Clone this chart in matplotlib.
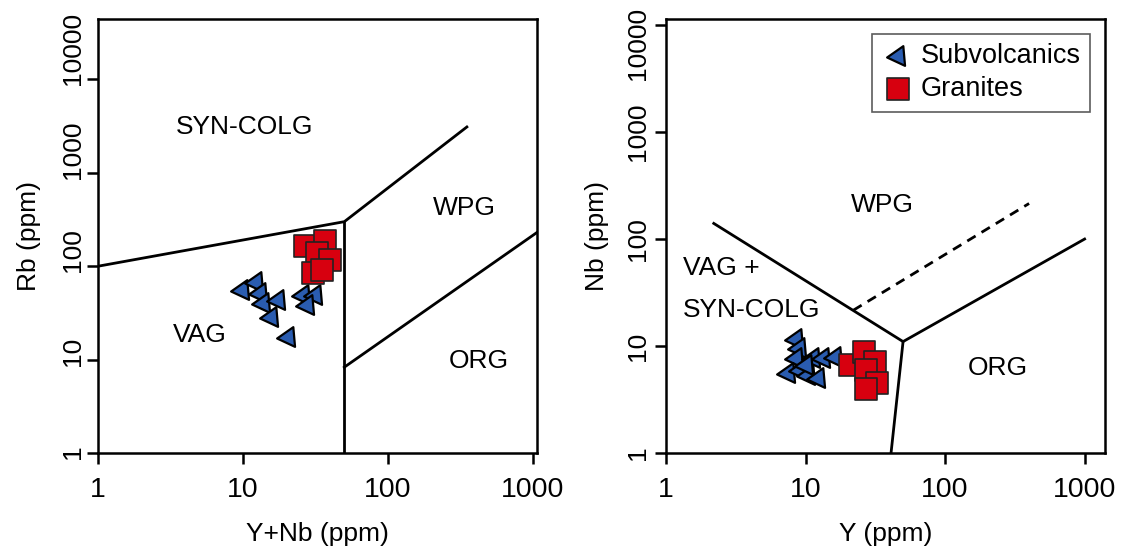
import matplotlib
matplotlib.use("Agg")
import matplotlib.pyplot as plt
from matplotlib.transforms import blended_transform_factory, offset_copy

plt.rcParams['font.family'] = ['Liberation Sans', 'DejaVu Sans']

# Rb vs Y+Nb (left panel)
sub_ynb = [9.8, 12.3, 13.1, 13.7, 17.4, 15.6, 20.4, 25.9, 31.4, 27.6]
sub_rb = [55.6, 67.8, 51.6, 40.4, 43.5, 28.6, 17.5, 49.2, 49.2, 38.4]
gra_ynb = [26.8, 36.8, 32.4, 39.8, 30.2, 35.1]
gra_rb = [165, 186, 138, 118, 85, 91.5]

# Nb vs Y (right panel)
sub_y = [8.55, 8.98, 8.55, 11.3, 13.3, 16.3, 7.5, 9.1, 10.4, 12.3, 10.1]
sub_nb = [11.6, 9.6, 7.7, 7.7, 7.7, 7.9, 5.6, 6.0, 5.4, 5.0, 6.6]
gra_y = [20.8, 26.3, 31.5, 27.2, 32.6, 27.2]
gra_nb = [6.6, 8.8, 7.1, 6.0, 4.5, 4.0]

# field boundaries (x list, y list)
left_bounds = [
    ([1, 50, 350], [100, 300, 3100]),
    ([50, 50], [1, 300]),
    ([50, 1100], [8.3, 238]),
]
right_bounds = [
    ([2.2, 50, 1000], [140, 11, 100]),
    ([41, 50], [1, 11]),
]
right_dashed = ([22, 400], [21.6, 215])

ticks = [1, 10, 100, 1000, 10000]

fig = plt.figure(figsize=(11.27, 5.52), dpi=100)
ax1 = fig.add_axes([98 / 1127, 99 / 552, 439 / 1127, 434 / 552])
ax2 = fig.add_axes([666 / 1127, 99 / 552, 439 / 1127, 434 / 552])

tri = (3, 0, 95)
tri_style = dict(marker=tri, s=270, color='#2a5cb0', edgecolors='black',
                 linewidths=1.6, zorder=3)
sq_style = dict(marker='s', s=235, color='#d7000f', edgecolors='#222222',
                linewidths=1.2, zorder=4)

for xs, ys in left_bounds:
    ax1.plot(xs, ys, color='black', lw=2.0)
ax1.scatter(sub_ynb, sub_rb, **tri_style)
ax1.scatter(gra_ynb, gra_rb, **sq_style)

for xs, ys in right_bounds:
    ax2.plot(xs, ys, color='black', lw=2.0)
ax2.plot(*right_dashed, color='black', lw=2.0, ls=(0, (3.5, 2.5)))
ax2.scatter(sub_y, sub_nb, label='Subvolcanics', **tri_style)
ax2.scatter(gra_y, gra_nb, label='Granites', **sq_style)

fs = 19
ax1.text(10.3, 3090, 'SYN-COLG', fontsize=fs, ha='center', va='center')
ax1.text(334, 418, 'WPG', fontsize=fs, ha='center', va='center')
ax1.text(5.05, 18.3, 'VAG', fontsize=fs, ha='center', va='center')
ax1.text(424, 9.7, 'ORG', fontsize=fs, ha='center', va='center')

ax2.text(35.3, 208, 'WPG', fontsize=fs, ha='center', va='center')
ax2.text(1.32, 53.6, 'VAG +', fontsize=fs, ha='left', va='center')
ax2.text(1.32, 21.7, 'SYN-COLG', fontsize=fs, ha='left', va='center')
ax2.text(240, 6.2, 'ORG', fontsize=fs, ha='center', va='center')

ax1.set_xlim(1, 1066)
ax1.set_ylim(1, 44400)
ax2.set_xlim(1, 1400)
ax2.set_ylim(1, 11400)

for ax, xl, yl in [(ax1, 'Y+Nb (ppm)', 'Rb (ppm)'), (ax2, 'Y (ppm)', 'Nb (ppm)')]:
    ax.set_xscale('log')
    ax.set_yscale('log')
    ax.set_xticks(ticks[:4])
    ax.set_xticklabels([str(t) for t in ticks[:4]])
    ax.set_yticks(ticks)
    ax.minorticks_off()
    ax.tick_params(direction='out', length=8, width=1.8)
    ax.tick_params(axis='x', labelsize=20.5, pad=9)
    ax.tick_params(axis='y', labelleft=False)
    for sp in ax.spines.values():
        sp.set_linewidth(1.8)
    ax.set_xlabel(xl, fontsize=19, labelpad=14)
    ax.set_ylabel(yl, fontsize=19)
    ax.yaxis.set_label_coords(-0.13, 0.5)

# vertical y tick labels, placed by measuring them after a first draw
ylabs = {}
for ax in (ax1, ax2):
    base = blended_transform_factory(ax.transAxes, ax.transData)
    ylabs[ax] = [ax.text(0, t, str(t), transform=base, rotation=90,
                         ha='center', va='center', fontsize=19) for t in ticks]

fig.canvas.draw()
rend = fig.canvas.get_renderer()
for ax, gap, mode in [(ax1, 13, 'up'), (ax2, 16, 'mid')]:
    base = blended_transform_factory(ax.transAxes, ax.transData)
    for t, txt in zip(ticks, ylabs[ax]):
        bb = txt.get_window_extent(rend)
        tx, ty = base.transform((0, t))
        dx = (tx - gap) - bb.x1
        if mode == 'up':
            # label starts a little below its tick and runs upward
            dy = (ty - 6) - bb.y0
        else:
            drop = 18 if t == ticks[-1] else 0
            dy = (ty - drop) - (bb.y0 + bb.y1) / 2
        txt.set_transform(offset_copy(base, fig=fig, x=dx / 100, y=dy / 100,
                                      units='inches'))

leg = ax2.legend(loc='upper right', fontsize=19.5, frameon=True, fancybox=False,
                 borderaxespad=0.55, handletextpad=0.25, borderpad=0.35,
                 labelspacing=0.25, handlelength=1.2, scatterpoints=1)
leg.get_frame().set_edgecolor('#333333')
leg.get_frame().set_linewidth(1.2)

fig.savefig('out.png', dpi=100)
